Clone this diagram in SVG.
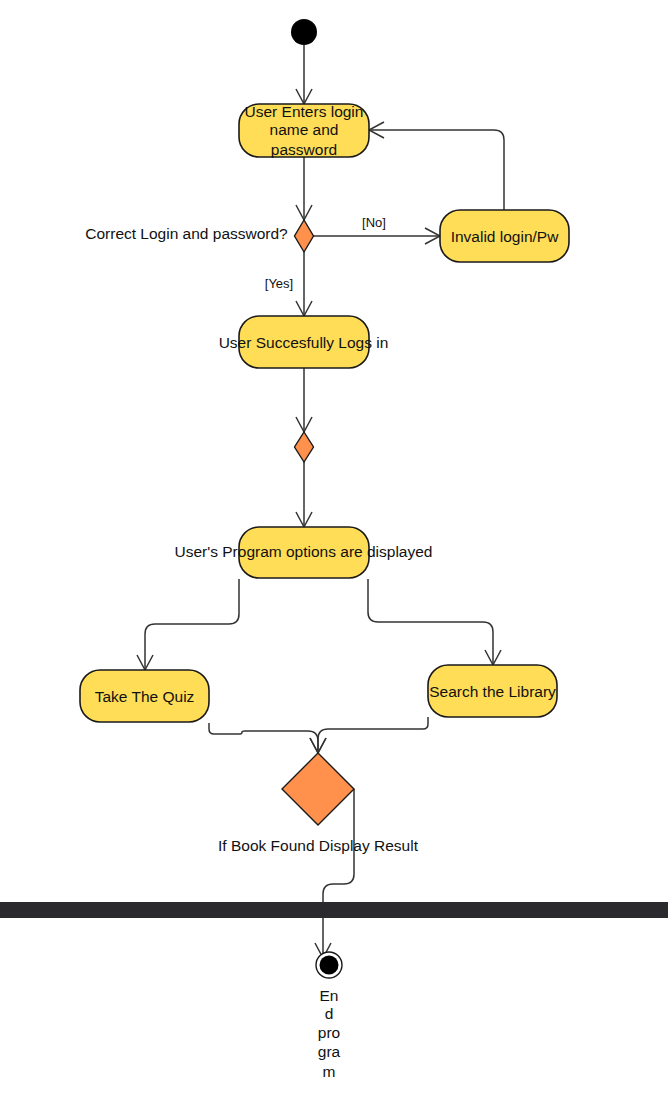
<svg xmlns="http://www.w3.org/2000/svg" width="668" height="1115" viewBox="0 0 668 1115">
<defs>
<style>
.act{fill:#ffdd57;stroke:#1a1a1a;stroke-width:1.6}
.dec{fill:#ff914d;stroke:#1a1a1a;stroke-width:1.4}
.t{font-family:"Liberation Sans",Arial,sans-serif;font-size:15.5px;fill:#111;text-anchor:middle}
.g{font-family:"Liberation Sans",Arial,sans-serif;font-size:13px;fill:#111;text-anchor:middle}
.c{fill:none;stroke:#333;stroke-width:1.5}
</style>
<marker id="arr" markerUnits="userSpaceOnUse" markerWidth="22" markerHeight="22" viewBox="0 0 22 22" refX="18" refY="11" orient="auto">
<path d="M3,3 L18,11 L3,19" fill="none" stroke="#333" stroke-width="1.5"/>
</marker>
</defs>
<rect width="668" height="1115" fill="#fff"/>
<g id="connectors">
<path class="c" d="M304,45 V104" marker-end="url(#arr)"/>
<path class="c" d="M304,157 V220" marker-end="url(#arr)"/>
<path class="c" d="M313,236 H440" marker-end="url(#arr)"/>
<path class="c" d="M504,210 V140 Q504,130 494,130 H369" marker-end="url(#arr)"/>
<path class="c" d="M304,252 V316" marker-end="url(#arr)"/>
<path class="c" d="M304,368 V432" marker-end="url(#arr)"/>
<path class="c" d="M304,462 V527" marker-end="url(#arr)"/>
<path class="c" d="M239,579 V614 Q239,624 229,624 H155 Q145,624 145,634 V670" marker-end="url(#arr)"/>
<path class="c" d="M368,579 V612 Q368,622 378,622 H483 Q493,622 493,632 V665" marker-end="url(#arr)"/>
<path class="c" d="M209,723 V729 Q209,734 214,734 H240 Q242,734 242,732 Q242,731 245,731 H308 Q318,731 318,741 V753" marker-end="url(#arr)"/>
<path class="c" d="M428,717 V724 Q428,729 423,729 H328 Q318,729 318,739 V753" marker-end="url(#arr)"/>
<path class="c" d="M354,789 V874 Q354,884 344,884 H333 Q323,884 323,894 V958" marker-end="url(#arr)"/>
<text class="g" x="374" y="227">[No]</text>
<text class="g" x="279" y="288">[Yes]</text>
</g>
<g id="bar"><rect x="0" y="902" width="668" height="16" fill="#2a2a2e"/></g>
<g id="start"><circle cx="304" cy="32" r="13" fill="#000"/></g>
<g id="n-enter">
<rect class="act" x="239" y="104" width="130" height="53" rx="20"/>
<text class="t" x="304" y="117">User Enters login</text>
<text class="t" x="304" y="135">name and</text>
<text class="t" x="304" y="155">password</text>
</g>
<g id="d-login">
<path class="dec" d="M304,220 L313.5,236 L304,252 L294.5,236 Z"/>
<text class="t" x="186.5" y="239">Correct Login and password?</text>
</g>
<g id="n-invalid">
<rect class="act" x="440" y="210" width="129" height="52" rx="20"/>
<text class="t" x="504.5" y="242">Invalid login/Pw</text>
</g>
<g id="n-success">
<rect class="act" x="239" y="316" width="130" height="52" rx="20"/>
<text class="t" x="303.5" y="348">User Succesfully Logs in</text>
</g>
<g id="d-2">
<path class="dec" d="M304,432 L313.5,447 L304,462 L294.5,447 Z"/>
</g>
<g id="n-options">
<rect class="act" x="239" y="527" width="130" height="51" rx="20"/>
<text class="t" x="303.5" y="557">User's Program options are displayed</text>
</g>
<g id="n-quiz">
<rect class="act" x="80" y="670" width="129" height="52" rx="20"/>
<text class="t" x="144.5" y="702">Take The Quiz</text>
</g>
<g id="n-library">
<rect class="act" x="428" y="665" width="129" height="52" rx="20"/>
<text class="t" x="492.5" y="697">Search the Library</text>
</g>
<g id="d-merge">
<path class="dec" d="M318,753 L354,789 L318,825 L282,789 Z"/>
<text class="t" x="318" y="851">If Book Found Display Result</text>
</g>
<g id="end">
<circle cx="329" cy="965" r="13" fill="#fff" stroke="#1a1a1a" stroke-width="1.4"/>
<circle cx="329" cy="965" r="9.5" fill="#000"/>
<text class="t" x="329" y="1001">En</text>
<text class="t" x="329" y="1019">d</text>
<text class="t" x="329" y="1038">pro</text>
<text class="t" x="329" y="1057">gra</text>
<text class="t" x="329" y="1077">m</text>
</g>
</svg>
